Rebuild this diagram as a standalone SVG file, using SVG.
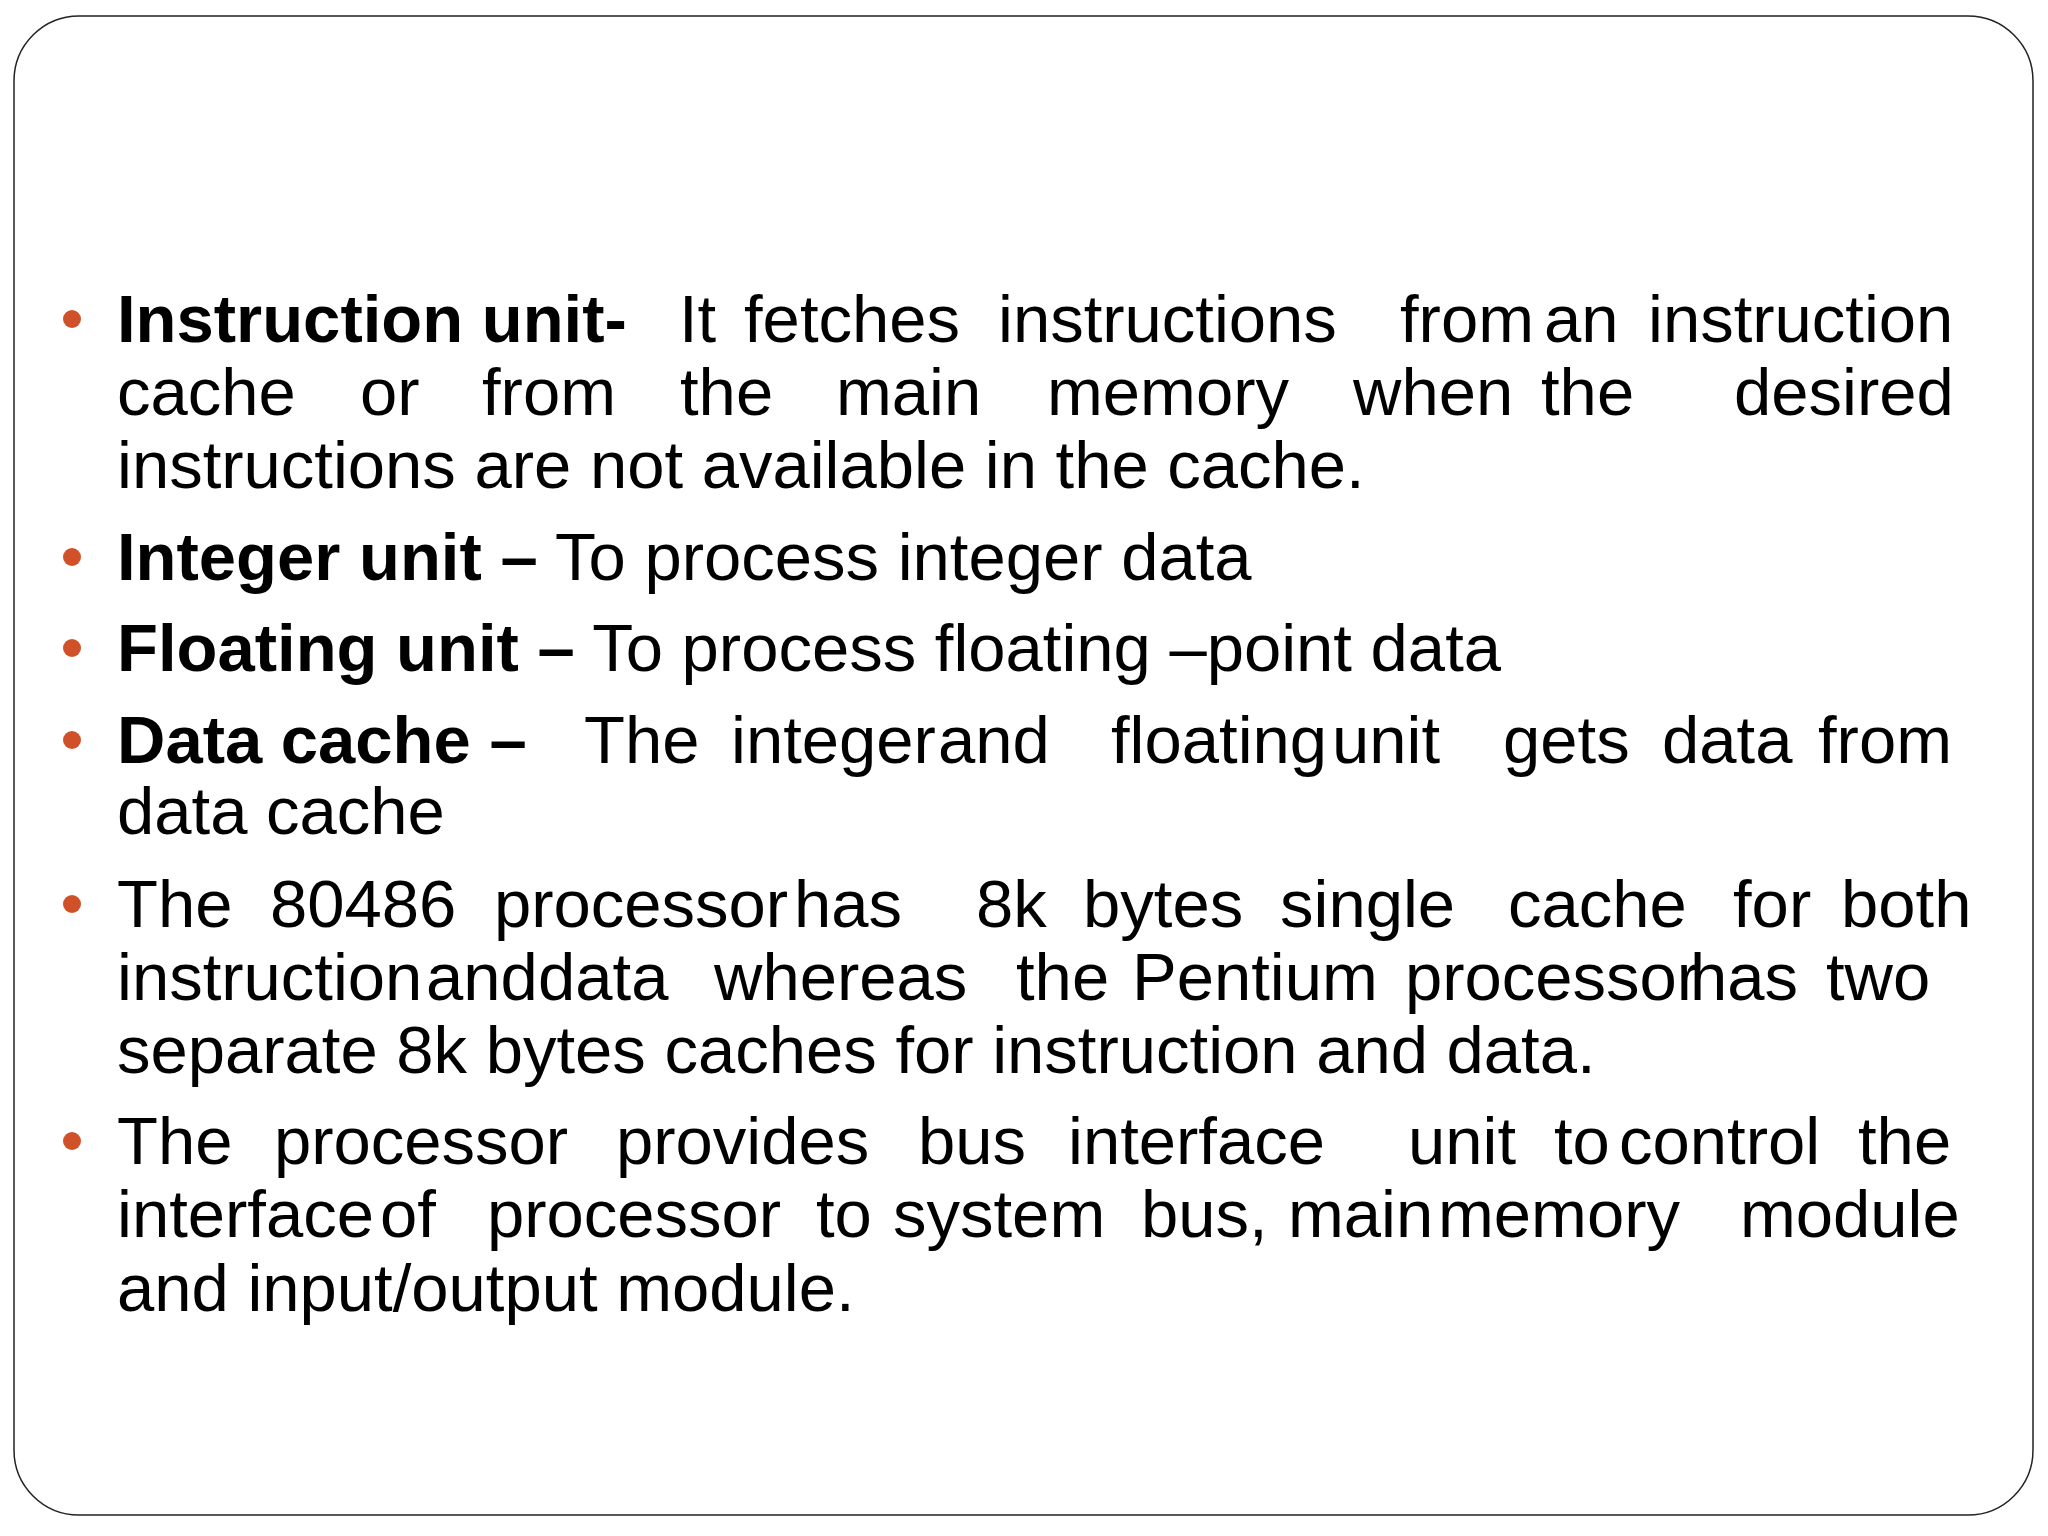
<svg xmlns="http://www.w3.org/2000/svg" width="2048" height="1536" viewBox="0 0 2048 1536">
<style>
text{font-family:"Liberation Sans",Arial,sans-serif;font-size:67px;fill:#000}
.b{font-weight:bold}
.dot{fill:#d0502a}
</style>
<rect x="0" y="0" width="2048" height="1536" fill="#fff"/>
<rect x="14" y="16" width="2019" height="1499" rx="65" fill="#fff" stroke="#222" stroke-width="1.5"/>
<g id="bullets">
<circle class="dot" cx="72" cy="319" r="9"/>
<circle class="dot" cx="72" cy="557" r="9"/>
<circle class="dot" cx="72" cy="648" r="9"/>
<circle class="dot" cx="72" cy="740" r="9"/>
<circle class="dot" cx="72" cy="904" r="9"/>
<circle class="dot" cx="72" cy="1141" r="9"/>
</g>
<g id="text">
<text y="342"><tspan x="117" class="b">Instruction unit-</tspan><tspan x="679">It</tspan><tspan x="744">fetches</tspan><tspan x="998">instructions</tspan><tspan x="1400">from</tspan><tspan x="1544">an</tspan><tspan x="1648">instruction</tspan></text>
<text y="415"><tspan x="117">cache</tspan><tspan x="360">or</tspan><tspan x="482">from</tspan><tspan x="680">the</tspan><tspan x="836">main</tspan><tspan x="1047">memory</tspan><tspan x="1353">when</tspan><tspan x="1541">the</tspan><tspan x="1734">desired</tspan></text>
<text x="117" y="488">instructions are not available in the cache.</text>
<text x="117" y="580"><tspan class="b">Integer unit –</tspan> To process integer data</text>
<text x="117" y="671"><tspan class="b">Floating unit –</tspan> To process floating –point data</text>
<text y="763"><tspan x="117" class="b">Data cache –</tspan><tspan x="584">The</tspan><tspan x="731">integer</tspan><tspan x="938">and</tspan><tspan x="1111">floating</tspan><tspan x="1332">unit</tspan><tspan x="1503">gets</tspan><tspan x="1662">data</tspan><tspan x="1818">from</tspan></text>
<text x="117" y="834">data cache</text>
<text y="927"><tspan x="117">The</tspan><tspan x="270">80486</tspan><tspan x="494">processor</tspan><tspan x="794">has</tspan><tspan x="976">8k</tspan><tspan x="1083">bytes</tspan><tspan x="1280">single</tspan><tspan x="1508">cache</tspan><tspan x="1733">for</tspan><tspan x="1841">both</tspan></text>
<text y="1000"><tspan x="117">instruction</tspan><tspan x="426">and</tspan><tspan x="538">data</tspan><tspan x="714">whereas</tspan><tspan x="1016">the</tspan><tspan x="1132">Pentium</tspan><tspan x="1405">processor</tspan><tspan x="1690">has</tspan><tspan x="1826">two</tspan></text>
<text x="117" y="1073">separate 8k bytes caches for instruction and data.</text>
<text y="1164"><tspan x="117">The</tspan><tspan x="274">processor</tspan><tspan x="616">provides</tspan><tspan x="918">bus</tspan><tspan x="1068">interface</tspan><tspan x="1408">unit</tspan><tspan x="1554">to</tspan><tspan x="1619">control</tspan><tspan x="1858">the</tspan></text>
<text y="1237"><tspan x="117">interface</tspan><tspan x="380">of</tspan><tspan x="487">processor</tspan><tspan x="816">to</tspan><tspan x="893">system</tspan><tspan x="1141">bus,</tspan><tspan x="1288">main</tspan><tspan x="1438">memory</tspan><tspan x="1740">module</tspan></text>
<text x="117" y="1311">and input/output module.</text>
</g>
</svg>
